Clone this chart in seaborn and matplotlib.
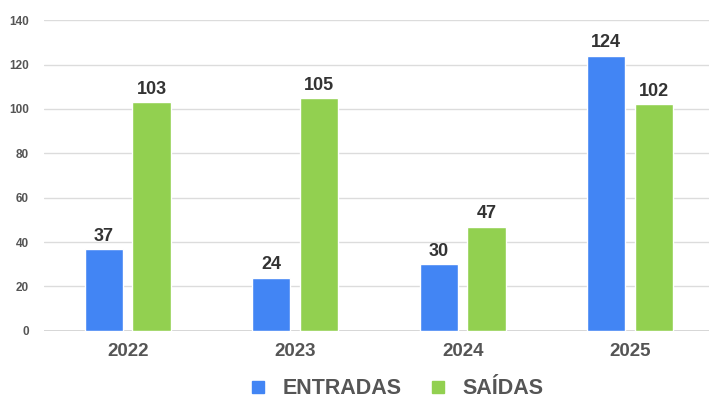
import matplotlib
matplotlib.use("Agg")
import matplotlib.pyplot as plt
import seaborn as sns
import pandas as pd
from matplotlib.lines import Line2D
from matplotlib.font_manager import FontProperties

years = ["2022", "2023", "2024", "2025"]
series = ["ENTRADAS", "SAÍDAS"]
entradas = [37, 24, 30, 124]
saidas = [103, 105, 47, 102]
colors = ["#4285F4", "#92D050"]

df = pd.DataFrame({
    "ano": years * 2,
    "serie": [series[0]] * 4 + [series[1]] * 4,
    "valor": entradas + saidas,
})

sns.set_theme(style="white")
plt.rcParams['font.family'] = ['Liberation Sans', 'DejaVu Sans']

fig = plt.figure(figsize=(7.09, 4.03), dpi=100)
ax = fig.add_axes([0.062, 0.179, 0.945, 0.771])
sns.barplot(data=df, x="ano", y="valor", hue="serie", palette=colors,
            width=0.571, gap=0.2, ax=ax, legend=False, saturation=1)

ax.set_xlim(-0.5, 3.5)
ax.set_ylim(0, 140)
ax.set_yticks(range(0, 141, 20))
ax.yaxis.grid(True, color="#dcdcdc", linewidth=1)
ax.set_axisbelow(True)
for s in ax.spines.values():
    s.set_visible(False)
ax.axhline(0, color="#d0d0d0", linewidth=1.2, zorder=0.5)
ax.set_xlabel("")
ax.set_ylabel("")
ax.tick_params(axis="y", length=0, pad=11, labelsize=8.5, labelcolor="#555555")
ax.tick_params(axis="x", length=0, pad=9, labelsize=13.5, labelcolor="#555555")
for lab in ax.get_yticklabels():
    lab.set_fontweight("bold")
for lab in ax.get_xticklabels():
    lab.set_fontweight("bold")

for cont in ax.containers:
    ax.bar_label(cont, padding=3, fontsize=13, fontweight="bold", color="#333333")

handles = [Line2D([], [], marker="s", linestyle="none", markersize=8.7,
                  markerfacecolor=c, markeredgecolor=c) for c in colors]
fp = FontProperties(family="Liberation Sans", weight="bold", size=15.5)
leg = fig.legend(handles, series, loc="center", bbox_to_anchor=(0.55, 0.035), ncol=2,
                 frameon=False, handletextpad=0.15, columnspacing=0.7,
                 prop=fp, labelcolor="#555555")

fig.savefig("out.png", dpi=100)
